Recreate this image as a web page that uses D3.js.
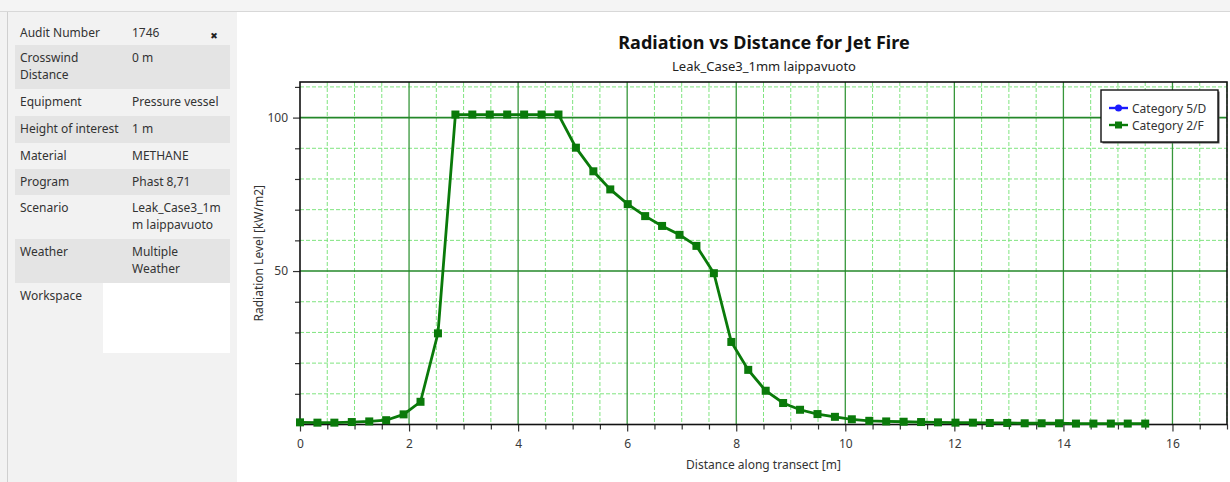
<!DOCTYPE html>
<html>
<head>
<meta charset="utf-8">
<script src="https://cdnjs.cloudflare.com/ajax/libs/d3/7.8.5/d3.min.js"></script>
<style>
  html, body { margin: 0; padding: 0; background: #fff; }
  svg { display: block; font-family: "Noto Sans", "Open Sans", sans-serif; }
</style>
</head>
<body>
<svg id="chart" width="1230" height="482"></svg>
<script>
// info panel rows
const infoLabels = ["Audit Number", "Crosswind|Distance", "Equipment", "Height of interest", "Material", "Program", "Scenario", "Weather", "Workspace"];
const infoValues = ["1746", "0 m", "Pressure vessel", "1 m", "METHANE", "Phast 8,71", "Leak_Case3_1m|m laippavuoto", "Multiple|Weather", ""];

// series
const seriesNames = ["Category 5/D", "Category 2/F"];
const seriesColors = ["#1a1aff", "#0a7a0a"];
const distance = [0, 0.32, 0.63, 0.95, 1.27, 1.58, 1.9, 2.21, 2.53, 2.85,
  3.16, 3.48, 3.8, 4.11, 4.43, 4.74, 5.06, 5.38, 5.69, 6.01,
  6.33, 6.64, 6.96, 7.27, 7.59, 7.91, 8.22, 8.54, 8.86, 9.17,
  9.49, 9.81, 10.12, 10.44, 10.75, 11.07, 11.39, 11.7, 12.02, 12.34,
  12.65, 12.97, 13.29, 13.6, 13.92, 14.23, 14.55, 14.87, 15.18, 15.5];
const radiation2F = [0.7, 0.6, 0.6, 0.8, 1.0, 1.4, 3.3, 7.4, 29.7, 101,
  101, 101, 101, 101, 101, 101, 90.2, 82.5, 76.6, 71.8,
  67.9, 64.7, 61.8, 58.2, 49.3, 26.9, 17.8, 11.0, 7.0, 4.8,
  3.4, 2.5, 1.7, 1.2, 1.0, 0.9, 0.8, 0.7, 0.6, 0.6,
  0.5, 0.5, 0.4, 0.4, 0.4, 0.3, 0.3, 0.3, 0.3, 0.3];

const xLabelTicks = [0, 2, 4, 6, 8, 10, 12, 14, 16];
const yLabelTicks = [50, 100];

const svg = d3.select("#chart");

// top strip
svg.append("rect").attr("x", 0).attr("y", 0).attr("width", 1230).attr("height", 11).attr("fill", "#f4f4f4");
svg.append("line").attr("x1", 0).attr("x2", 1230).attr("y1", 11.5).attr("y2", 11.5).attr("stroke", "#d8d8d8");

// ---- left info panel ----
const panel = svg.append("g");
panel.append("rect").attr("x", 0).attr("y", 12).attr("width", 237).attr("height", 470).attr("fill", "#f2f2f2");
panel.append("line").attr("x1", 7.5).attr("x2", 7.5).attr("y1", 12).attr("y2", 482).attr("stroke", "#cfcfcf");

const rowTops = [20, 45, 89, 116, 143, 169, 195, 239, 283, 482];
infoLabels.forEach((lab, i) => {
  const y0 = rowTops[i];
  const h = rowTops[i + 1] - y0;
  panel.append("rect")
    .attr("x", 15).attr("y", y0).attr("width", 215).attr("height", h)
    .attr("fill", i % 2 === 1 ? "#e4e4e4" : "#f2f2f2");
  lab.split("|").forEach((t, j) => {
    panel.append("text").attr("x", 20).attr("y", y0 + 17 + j * 17)
      .attr("font-size", 12).attr("fill", "#333").text(t);
  });
  infoValues[i].split("|").forEach((t, j) => {
    if (!t) return;
    panel.append("text").attr("x", 132).attr("y", y0 + 17 + j * 17)
      .attr("font-size", 12).attr("fill", "#333").text(t);
  });
});
// workspace white box
panel.append("rect").attr("x", 103).attr("y", 283).attr("width", 127).attr("height", 70).attr("fill", "#fff");
// close icon
panel.append("text").attr("x", 214).attr("y", 39).attr("text-anchor", "middle")
  .attr("font-size", 9).attr("fill", "#222").attr("font-family", "'DejaVu Sans', sans-serif").text("\u2716");

// ---- chart ----
const plotL = 300, plotR = 1227, plotT = 82, plotB = 424.5;
const x = d3.scaleLinear().domain([0, 17]).range([plotL, plotR]);
const y = d3.scaleLinear().domain([0, 111.6]).range([plotB, plotT]);

const g = svg.append("g");

// minor grid
const xMinor = d3.range(1, 35).map(d => d * 0.5).filter(d => d % 2 !== 0);
const yMinor = d3.range(1, 12).map(d => d * 10).filter(d => d % 50 !== 0);
g.selectAll(".vminor").data(xMinor).join("line")
  .attr("x1", d => x(d)).attr("x2", d => x(d)).attr("y1", plotT).attr("y2", plotB)
  .attr("stroke", "#7fe47f").attr("stroke-width", 1).attr("stroke-dasharray", "4,2");
g.selectAll(".hminor").data(yMinor).join("line")
  .attr("x1", plotL).attr("x2", plotR).attr("y1", d => y(d)).attr("y2", d => y(d))
  .attr("stroke", "#7fe47f").attr("stroke-width", 1).attr("stroke-dasharray", "4,2");
// major grid
g.selectAll(".vmajor").data(xLabelTicks.filter(d => d > 0)).join("line")
  .attr("x1", d => x(d)).attr("x2", d => x(d)).attr("y1", plotT).attr("y2", plotB)
  .attr("stroke", "#36963a").attr("stroke-width", 1.3);
g.selectAll(".hmajor").data(yLabelTicks).join("line")
  .attr("x1", plotL).attr("x2", plotR).attr("y1", d => y(d)).attr("y2", d => y(d))
  .attr("stroke", "#24882a").attr("stroke-width", 1.6);

// axes
const xAxisMinor = d3.axisBottom(x).tickValues(xMinor).tickSize(5).tickFormat("");
const xAxisMajor = d3.axisBottom(x).tickValues(xLabelTicks).tickSize(7).tickPadding(8);
const yAxisMinor = d3.axisLeft(y).tickValues(yMinor).tickSize(5).tickFormat("");
const yAxisMajor = d3.axisLeft(y).tickValues(yLabelTicks).tickSize(7).tickPadding(5);

[xAxisMinor, xAxisMajor].forEach(ax => {
  g.append("g").attr("transform", `translate(0,${plotB})`).call(ax)
    .call(s => s.select(".domain").remove())
    .call(s => s.selectAll("line").attr("stroke", "#333").attr("stroke-width", 1.2))
    .call(s => s.selectAll("text").attr("font-size", 12).attr("fill", "#3a3a3a")
      .attr("font-family", "'Noto Sans', sans-serif"));
});
[yAxisMinor, yAxisMajor].forEach(ax => {
  g.append("g").attr("transform", `translate(${plotL},0)`).call(ax)
    .call(s => s.select(".domain").remove())
    .call(s => s.selectAll("line").attr("stroke", "#333").attr("stroke-width", 1.2))
    .call(s => s.selectAll("text").attr("font-size", 12).attr("fill", "#3a3a3a")
      .attr("font-family", "'Noto Sans', sans-serif"));
});

// frame
g.append("rect").attr("x", plotL).attr("y", plotT).attr("width", plotR - plotL).attr("height", plotB - plotT)
  .attr("fill", "none").attr("stroke", "#111").attr("stroke-width", 1.6);

// series line
const pts = distance.map((d, i) => [d, radiation2F[i]]);
const line = d3.line().x(d => x(d[0])).y(d => y(d[1]));
g.append("path").datum(pts).attr("d", line)
  .attr("fill", "none").attr("stroke", seriesColors[1]).attr("stroke-width", 2.8);
g.selectAll(".mk").data(pts).join("rect")
  .attr("x", d => x(d[0]) - 4).attr("y", d => y(d[1]) - 4)
  .attr("width", 8).attr("height", 8).attr("fill", seriesColors[1]);

// titles
svg.append("text").attr("x", 764).attr("y", 49).attr("text-anchor", "middle")
  .attr("font-size", 18).attr("font-weight", "bold").attr("fill", "#111")
  .text("Radiation vs Distance for Jet Fire");
svg.append("text").attr("x", 764).attr("y", 71).attr("text-anchor", "middle")
  .attr("font-size", 13).attr("fill", "#222")
  .text("Leak_Case3_1mm laippavuoto");
svg.append("text").attr("x", (plotL + plotR) / 2).attr("y", 469).attr("text-anchor", "middle")
  .attr("font-size", 12).attr("fill", "#333").text("Distance along transect [m]");
svg.append("text").attr("transform", `translate(263,${(plotT + plotB) / 2}) rotate(-90)`)
  .attr("text-anchor", "middle").attr("font-size", 12).attr("fill", "#333")
  .text("Radiation Level [kW/m2]");

// legend
const lg = svg.append("g").attr("transform", "translate(1101,90)");
lg.append("rect").attr("x", 1.5).attr("y", 1.5).attr("width", 117).attr("height", 52).attr("fill", "#555");
lg.append("rect").attr("width", 117).attr("height", 52).attr("fill", "#fff")
  .attr("stroke", "#111").attr("stroke-width", 1.4);
seriesNames.forEach((name, i) => {
  const ly = 18 + i * 17;
  lg.append("line").attr("x1", 8).attr("x2", 27).attr("y1", ly).attr("y2", ly)
    .attr("stroke", seriesColors[i]).attr("stroke-width", 2.4);
  if (i === 0) {
    lg.append("circle").attr("cx", 17.5).attr("cy", ly).attr("r", 3.5).attr("fill", seriesColors[i]);
  } else {
    lg.append("rect").attr("x", 14).attr("y", ly - 3.5).attr("width", 7).attr("height", 7).attr("fill", seriesColors[i]);
  }
  lg.append("text").attr("x", 31).attr("y", ly + 4.5).attr("font-size", 12).attr("fill", "#333").text(name);
});
</script>
</body>
</html>
